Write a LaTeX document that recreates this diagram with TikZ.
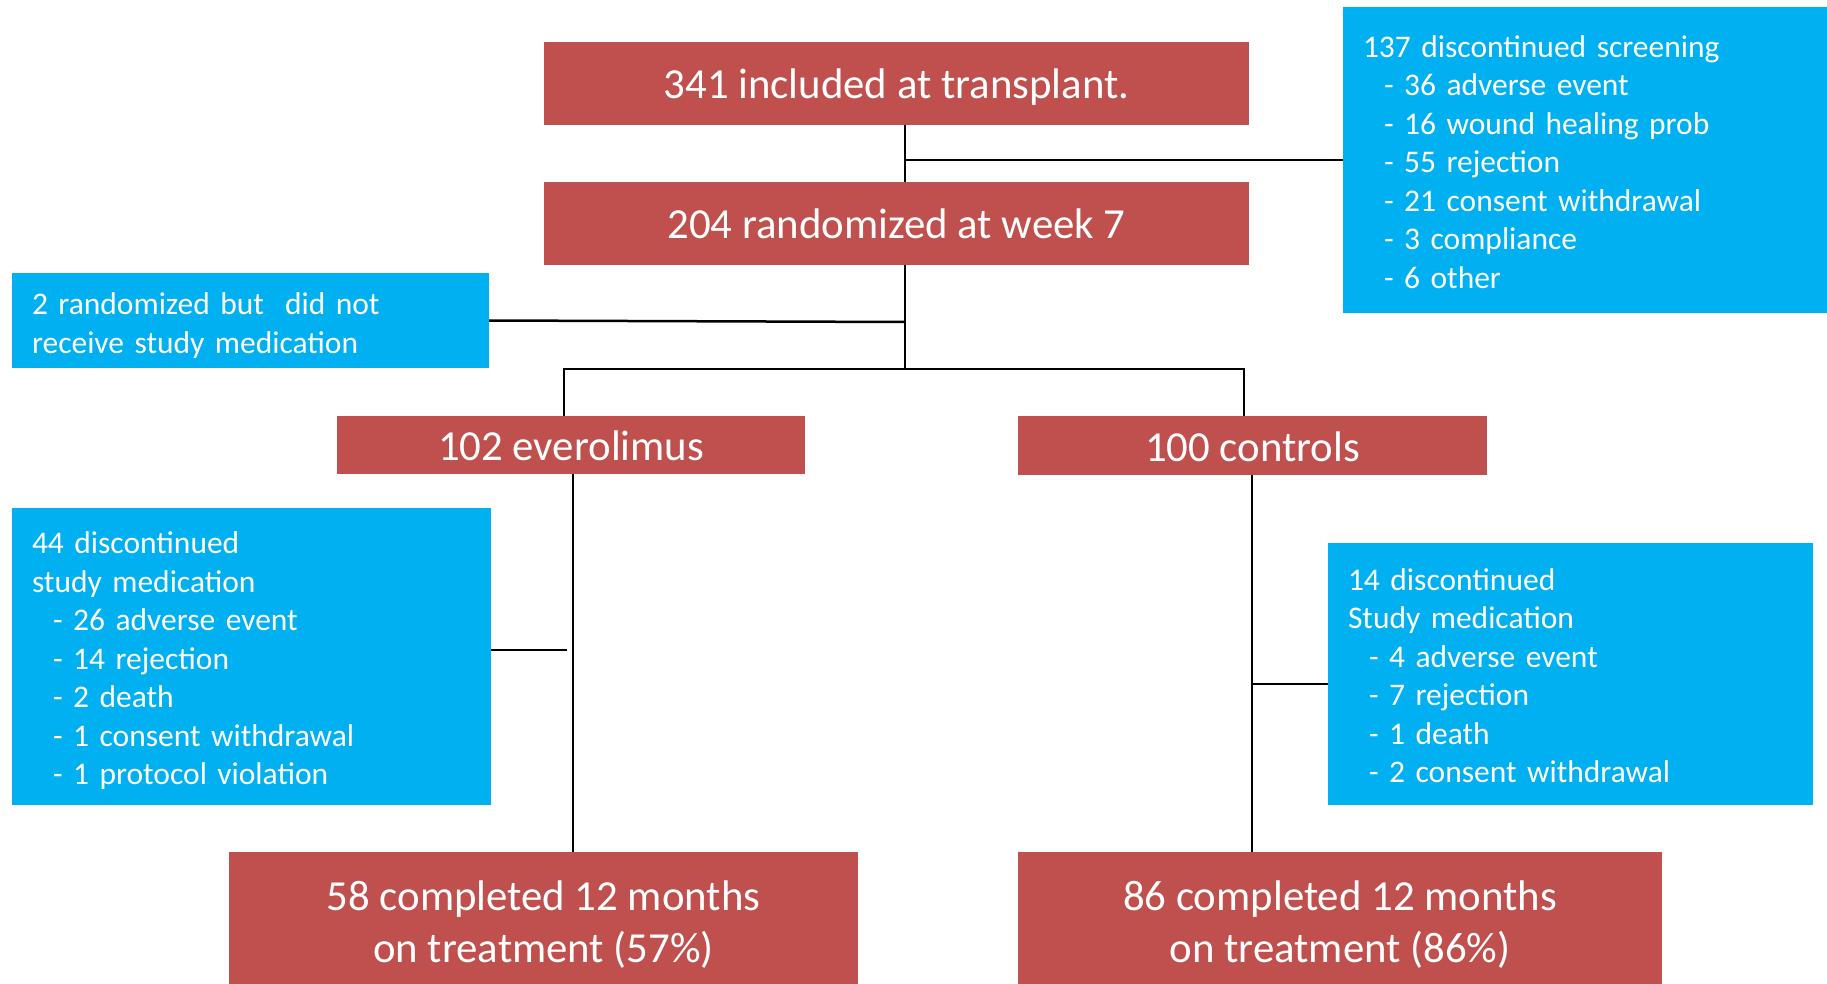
\documentclass[tikz,border=0pt]{standalone}
\usepackage{fontspec}
\setmainfont{Carlito}

\definecolor{boxred}{HTML}{C0504D}
\definecolor{boxblue}{HTML}{00B0F0}

\newcommand{\dashitem}{\hspace*{21pt}- }

\tikzset{
    redbox/.style={fill=boxred, text=white, align=center, inner sep=0pt,
        font=\fontsize{42.8}{52}\selectfont, text height=31pt, text depth=0pt},
    twoline/.style={text height=88pt},
    bluebox/.style={fill=boxblue, text=white, align=left, inner xsep=20pt, inner ysep=0pt,
        font=\fontsize{31.5}{38.5}\selectfont, text height=23pt},
    link/.style={line width=2.5pt}
}

\begin{document}
\begin{tikzpicture}[x=1pt, y=-1pt]
    \useasboundingbox (0,0) rectangle (1827,984);

    % main flow
    \node[redbox, minimum width=705, minimum height=83] (incl) at (896.5,83.5) {341 included at transplant.};
    \node[redbox, minimum width=705, minimum height=83] (rand) at (896.5,223.5) {204 randomized at week 7};
    \node[redbox, minimum width=468, minimum height=58] (ever) at (571,445) {102 everolimus};
    \node[redbox, minimum width=469, minimum height=59] (ctrl) at (1252.5,445.5) {100 controls};
    \node[redbox, twoline, minimum width=629, minimum height=132] (comp1) at (543.5,918) {58 completed 12 months\\on treatment (57\%)};
    \node[redbox, twoline, minimum width=644, minimum height=132] (comp2) at (1340,918) {86 completed 12 months\\on treatment (86\%)};

    % side boxes
    \node[bluebox, text width=444, text depth=228.5pt, minimum height=306] (scr) at (1585,160)
        {137 discontinued screening\\
         \dashitem 36 adverse event\\
         \dashitem 16 wound healing prob\\
         \dashitem 55 rejection\\
         \dashitem 21 consent withdrawal\\
         \dashitem 3 compliance\\
         \dashitem 6 other};
    \node[bluebox, text width=437, text depth=35pt, minimum height=95] (norx) at (250.5,320.5)
        {2 randomized but~ did not\\receive study medication};
    \node[bluebox, text width=439, text depth=228.5pt, minimum height=297] (dis1) at (251.5,656.5)
        {44 discontinued\\
         study medication\\
         \dashitem 26 adverse event\\
         \dashitem 14 rejection\\
         \dashitem 2 death\\
         \dashitem 1 consent withdrawal\\
         \dashitem 1 protocol violation};
    \node[bluebox, text width=445, text depth=190.5pt, minimum height=262] (dis2) at (1570.5,674)
        {14 discontinued\\
         Study medication\\
         \dashitem 4 adverse event\\
         \dashitem 7 rejection\\
         \dashitem 1 death\\
         \dashitem 2 consent withdrawal};

    % junctions
    \coordinate (t1) at (905,160);
    \coordinate (t2) at (905,322);
    \coordinate (br) at (905,369);
    \coordinate (bl) at (564,369);
    \coordinate (bR) at (1244,369);
    \coordinate (s1) at (573,650);
    \coordinate (s1end) at (567,650);
    \coordinate (s2) at (1252,684);

    \draw[link] (incl.south -| t1) -- (rand.north -| t1);
    \draw[link] (t1) -- (scr.west |- t1);
    \draw[link] (rand.south -| br) -- (br);
    \draw[link] (norx.east) -- (t2);
    \draw[link] (ever.north -| bl) -- (bl) -- (bR) -- (ctrl.north -| bR);
    \draw[link] (ever.south -| s1) -- (comp1.north -| s1);
    \draw[link] (dis1.east |- s1end) -- (s1end);
    \draw[link] (ctrl.south -| s2) -- (comp2.north -| s2);
    \draw[link] (s2) -- (dis2.west |- s2);
\end{tikzpicture}
\end{document}
